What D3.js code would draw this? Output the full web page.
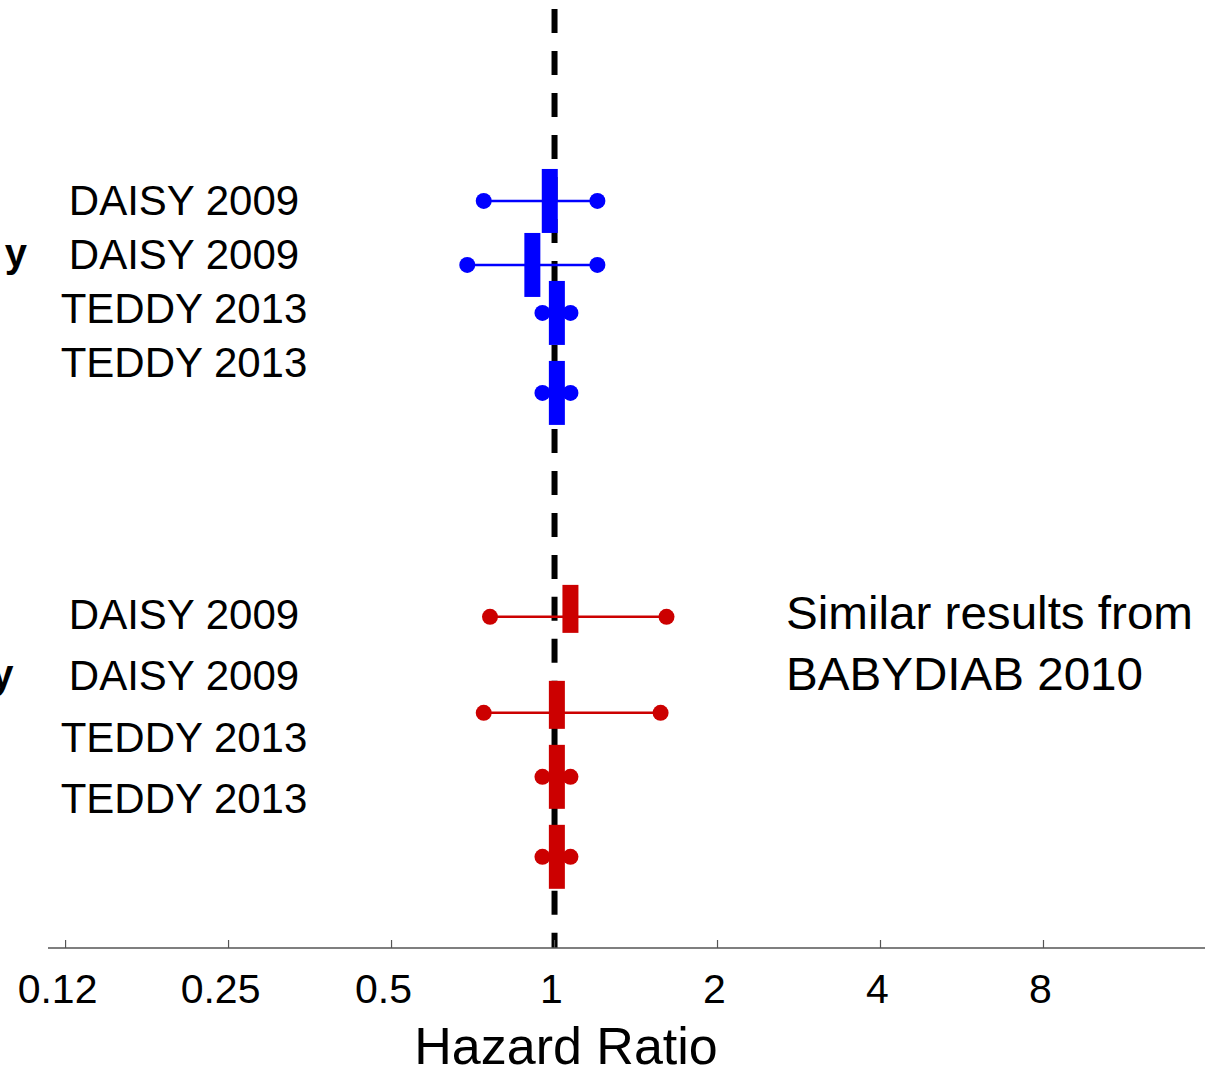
<!DOCTYPE html>
<html>
<head>
<meta charset="utf-8">
<script src="https://cdn.jsdelivr.net/npm/d3@7"></script>
<style>
  html, body { margin: 0; padding: 0; background: #fff; }
  svg { display: block; font-family: "Liberation Sans", Arial, sans-serif; }
</style>
</head>
<body>
<svg id="chart" width="1215" height="1068"></svg>
<script>
// ---- data ----
const blueLabels = ["DAISY 2009", "DAISY 2009", "TEDDY 2013", "TEDDY 2013"];
const blueHR     = [0.98, 0.91, 1.01, 1.01];
const blueLo     = [0.74, 0.69, 0.95, 0.95];
const blueHi     = [1.20, 1.20, 1.07, 1.07];
const blueRow    = [12, 16, 19, 24];      // row position on the vertical axis
const blueWeight = [4, 4, 4, 4];          // box weight

const redLabels  = ["DAISY 2009", "DAISY 2009", "TEDDY 2013", "TEDDY 2013"];
const redHR      = [1.07, 1.01, 1.01, 1.01];
const redLo      = [0.76, 0.74, 0.95, 0.95];
const redHi      = [1.61, 1.57, 1.07, 1.07];
const redRow     = [38, 44, 48, 53];
const redWeight  = [3, 3, 4, 4];

const tickValues = [0.125, 0.25, 0.5, 1, 2, 4, 8];
const tickLabels = ["0.12", "0.25", "0.5", "1", "2", "4", "8"];
const refValue   = 1;
const xTitle     = "Hazard Ratio";
const noteLines  = ["Similar results from", "BABYDIAB 2010"];

// ---- scales ----
const svg = d3.select("#chart");
const x = d3.scaleLog().domain([0.116, 15.9]).range([48, 1205]);
const y = d3.scaleLinear().domain([0, 58.7]).range([9, 948]);
const unit = y(1) - y(0);

const BLUE = "#0000ff", RED = "#cc0000";

// ---- reference line at HR = 1 ----
svg.append("line")
  .attr("x1", x(refValue)).attr("x2", x(refValue))
  .attr("y1", y(0)).attr("y2", y(58.7))
  .attr("stroke", "#000").attr("stroke-width", 6)
  .attr("stroke-dasharray", `${1.5 * unit} ${1.125 * unit}`);

// ---- x axis ----
const axisG = svg.append("g").attr("transform", `translate(0,${y(58.7)})`);
axisG.append("line")
  .attr("x1", 48).attr("x2", 1205)
  .attr("stroke", "#555").attr("stroke-width", 1.5);
axisG.selectAll("line.tick").data(tickValues).join("line")
  .attr("class", "tick")
  .attr("x1", d => x(d)).attr("x2", d => x(d))
  .attr("y1", 0).attr("y2", -8)
  .attr("stroke", "#555").attr("stroke-width", 1.2);
axisG.selectAll("text.tl").data(tickValues).join("text")
  .attr("class", "tl")
  .attr("x", (d, i) => x(d) - (tickLabels[i].includes(".") ? 8 : 3))
  .attr("y", 55)
  .attr("text-anchor", "middle")
  .attr("font-size", 41)
  .attr("fill", "#000")
  .text((d, i) => tickLabels[i]);

svg.append("text")
  .attr("x", 566).attr("y", 1064)
  .attr("text-anchor", "middle")
  .attr("font-size", 52)
  .attr("fill", "#000")
  .text(xTitle);

// ---- forest rows ----
function drawGroup(labels, hr, lo, hi, rows, weights, color, labelRange, cutY) {
  const rowsData = labels.map((l, i) => ({
    label: l, hr: hr[i], lo: lo[i], hi: hi[i], row: rows[i], w: weights[i]
  }));
  const g = svg.append("g");

  // whiskers
  g.selectAll("line.ci").data(rowsData).join("line")
    .attr("class", "ci")
    .attr("x1", d => x(d.lo)).attr("x2", d => x(d.hi))
    .attr("y1", d => y(d.row)).attr("y2", d => y(d.row))
    .attr("stroke", color).attr("stroke-width", 2.5);

  // end dots
  const ends = rowsData.flatMap(d => [{ v: d.lo, row: d.row }, { v: d.hi, row: d.row }]);
  g.selectAll("circle").data(ends).join("circle")
    .attr("cx", d => x(d.v)).attr("cy", d => y(d.row))
    .attr("r", 8).attr("fill", color);

  // point-estimate boxes
  g.selectAll("rect").data(rowsData).join("rect")
    .attr("x", d => x(d.hr) - 8)
    .attr("y", d => y(d.row - 2))
    .attr("width", 16)
    .attr("height", d => y(d.w) - y(0))
    .attr("fill", color);

  // study labels
  const ly = d3.scalePoint().domain(d3.range(labels.length)).range(labelRange);
  svg.selectAll(null).data(rowsData).join("text")
    .attr("x", 184)
    .attr("y", (d, i) => ly(i))
    .attr("text-anchor", "middle")
    .attr("font-size", 42)
    .attr("fill", "#000")
    .text(d => d.label);

  // clipped group heading tail
  svg.append("text")
    .attr("x", cutY[0]).attr("y", cutY[1])
    .attr("text-anchor", "end")
    .attr("font-size", 40)
    .attr("font-weight", "bold")
    .attr("fill", "#000")
    .text("y");
}

drawGroup(blueLabels, blueHR, blueLo, blueHi, blueRow, blueWeight, BLUE, [215, 377], [27, 267]);
drawGroup(redLabels, redHR, redLo, redHi, redRow, redWeight, RED, [629, 813], [13.5, 688]);

// ---- note ----
const noteWidths = [407, 357];
svg.selectAll("text.note").data(noteLines).join("text")
  .attr("class", "note")
  .attr("x", 786)
  .attr("y", (d, i) => 629 + i * 61)
  .attr("font-size", 46)
  .attr("textLength", (d, i) => noteWidths[i])
  .attr("lengthAdjust", "spacingAndGlyphs")
  .attr("fill", "#000")
  .text(d => d);
</script>
</body>
</html>
